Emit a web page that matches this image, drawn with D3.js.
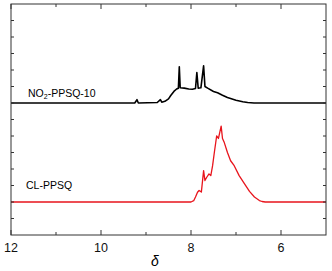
<!DOCTYPE html>
<html>
<head>
<meta charset="utf-8">
<script src="https://cdn.jsdelivr.net/npm/d3@7"></script>
<style>
  body { margin: 0; background: #fff; }
  text { font-family: "Liberation Sans", Arial, sans-serif; }
</style>
</head>
<body>
<svg id="chart" width="332" height="271"></svg>
<script>
// chemical shift (ppm) and intensity above each trace's baseline
const no2Shift = [12.0, 9.25, 9.2, 9.17, 8.75, 8.68, 8.65, 8.58, 8.5, 8.45, 8.38, 8.32, 8.28, 8.26, 8.24, 8.15, 8.05, 7.97, 7.9, 7.87, 7.84, 7.78, 7.72, 7.69, 7.63, 7.5, 7.41, 7.3, 7.19, 7.0, 6.85, 6.74, 6.6, 5.0]
const no2Int = [0, 0, 0.2, 0, 0.03, 0.2, 0.05, 0.1, 0.25, 0.45, 0.7, 0.85, 0.9, 2.2, 0.92, 0.9, 0.85, 0.83, 0.88, 1.85, 0.9, 0.92, 2.25, 1.0, 0.9, 0.7, 0.62, 0.47, 0.33, 0.17, 0.08, 0.03, 0, 0]

const clShift = [12.0, 8.0, 7.94, 7.9, 7.855, 7.82, 7.77, 7.72, 7.69, 7.65, 7.6, 7.56, 7.52, 7.48, 7.43, 7.39, 7.33, 7.3, 7.26, 7.19, 7.12, 7.04, 6.93, 6.81, 6.7, 6.59, 6.48, 6.42, 6.35, 5.0]
const clInt = [0, 0, 0.08, 0.3, 0.59, 0.7, 0.6, 1.9, 1.3, 1.5, 1.7, 1.6, 2.2, 3.03, 4.0, 3.85, 4.6, 3.85, 3.6, 3.0, 2.5, 2.2, 1.6, 1.1, 0.64, 0.3, 0.09, 0.03, 0, 0]

const series = [
  { name: "NO2-PPSQ-10", x: no2Shift, y: no2Int, offset: 8, color: "#000" },
  { name: "CL-PPSQ", x: clShift, y: clInt, offset: 2, color: "#e8141c" }
]
const xTicks = [12, 10, 8, 6]
const xMinor = [11, 9, 7]

const pLeft = 11, pRight = 326, pTop = 4, pBottom = 235
const svg = d3.select("#chart")
const x = d3.scaleLinear().domain([12, 5]).range([pLeft, pRight])
const y = d3.scaleLinear().domain([0, 14]).range([pBottom, pTop])

const line = d3.line().x(d => x(d[0])).y(d => y(d[1]))
series.forEach(s => {
  const pts = s.x.map((v, i) => [v, s.y[i] + s.offset])
  svg.append("path")
    .attr("d", line(pts))
    .attr("fill", "none")
    .attr("stroke", s.color)
    .attr("stroke-width", s.color === "#000" ? 1.6 : 1.3)
    .attr("stroke-linejoin", "round")
})

// frame and inward ticks
const frame = "#333"
svg.append("rect")
  .attr("x", pLeft).attr("y", pTop)
  .attr("width", pRight - pLeft).attr("height", pBottom - pTop)
  .attr("fill", "none").attr("stroke", frame).attr("stroke-width", 1)

const g = svg.append("g").attr("stroke", frame).attr("stroke-width", 1)
xTicks.forEach(t => {
  g.append("line").attr("x1", x(t)).attr("x2", x(t)).attr("y1", pBottom).attr("y2", pBottom - 5)
  g.append("line").attr("x1", x(t)).attr("x2", x(t)).attr("y1", pTop).attr("y2", pTop + 5)
})
xMinor.forEach(t => {
  g.append("line").attr("x1", x(t)).attr("x2", x(t)).attr("y1", pBottom).attr("y2", pBottom - 3)
  g.append("line").attr("x1", x(t)).attr("x2", x(t)).attr("y1", pTop).attr("y2", pTop + 3)
})
d3.range(1, 14).forEach(t => {
  g.append("line").attr("x1", pLeft).attr("x2", pLeft + 3).attr("y1", y(t)).attr("y2", y(t))
  g.append("line").attr("x1", pRight).attr("x2", pRight - 3).attr("y1", y(t)).attr("y2", y(t))
})

svg.selectAll(".xlab").data(xTicks).enter().append("text")
  .attr("x", d => x(d)).attr("y", 252)
  .attr("text-anchor", "middle")
  .attr("font-size", 12.5)
  .attr("fill", "#111")
  .text(d => d)

svg.append("text")
  .attr("x", 155).attr("y", 266)
  .attr("text-anchor", "middle")
  .attr("font-size", 14)
  .attr("font-style", "italic")
  .attr("font-family", "Liberation Serif, serif")
  .text("δ")

const l1 = svg.append("text").attr("x", 28).attr("y", 97).attr("font-size", 10.5).attr("fill", "#000")
l1.append("tspan").text("NO")
l1.append("tspan").attr("font-size", 7).attr("dy", 2).text("2")
l1.append("tspan").attr("dy", -2).text("-PPSQ-10")

svg.append("text").attr("x", 26).attr("y", 188.5).attr("font-size", 10.5).attr("fill", "#000").text("CL-PPSQ")
</script>
</body>
</html>
